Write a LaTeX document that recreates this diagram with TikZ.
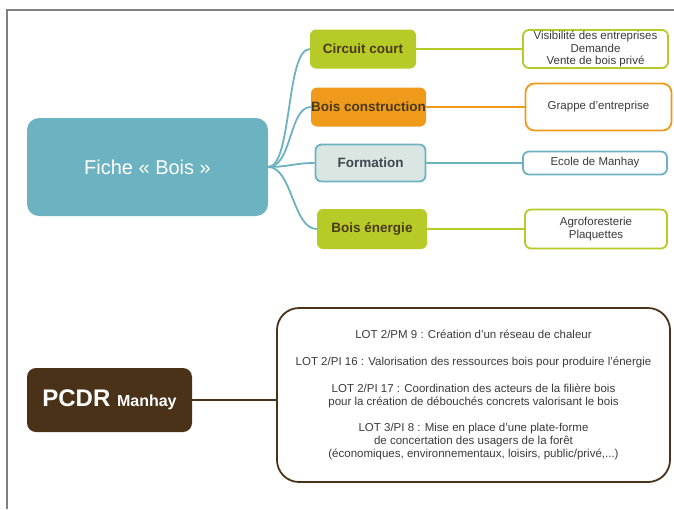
\documentclass[tikz,border=0pt]{standalone}
\usepackage{fontspec}
\setmainfont{Liberation Sans}
\definecolor{ficheteal}{HTML}{6DB2C0}
\definecolor{limebox}{HTML}{B7CB28}
\definecolor{orangebox}{HTML}{F09A1C}
\definecolor{formfill}{HTML}{DAE6E1}
\definecolor{brownbox}{HTML}{4A3219}
\definecolor{branchtext}{HTML}{4A3A14}
\definecolor{formtext}{HTML}{3E4752}
\definecolor{smalltext}{HTML}{3A3A3A}
\definecolor{framegray}{HTML}{808080}
\begin{document}
\begin{tikzpicture}[x=1pt, y=-1pt,
	box/.style={rectangle, inner sep=0pt, align=center, rounded corners=6},
	branch/.style={box, text=branchtext, font=\fontsize{13.5}{15}\selectfont\bfseries},
	leaf/.style={box, draw, line width=1.8pt, fill=white, text=smalltext, font=\fontsize{11.5}{12.5}\selectfont},
	link/.style={line width=1.8pt}]
		\useasboundingbox (0, 0) rectangle (674, 509);
		\draw[framegray, line width=1.5pt] (7, 509) -- (7, 10) -- (674, 10);
		% mind map
		\node[box, rounded corners=12, fill=ficheteal, text=white, minimum width=241, minimum height=98,
			font=\fontsize{20}{22}\selectfont] (fiche) at (147.5, 167) {Fiche « Bois »};
		\node[branch, fill=limebox, minimum width=106, minimum height=39] (cc) at (363, 49) {Circuit court};
		\node[branch, fill=orangebox, minimum width=115, minimum height=39] (bc) at (368.5, 107) {Bois construction};
		\node[branch, fill=formfill, draw=ficheteal, line width=1.8pt, text=formtext, minimum width=110,
			minimum height=37] (fo) at (370.5, 163) {Formation};
		\node[branch, fill=limebox, minimum width=110, minimum height=40] (be) at (372, 229) {Bois énergie};
		\node[leaf, draw=limebox, minimum width=145, minimum height=38] (vis) at (595.5, 49)
			{Visibilité des entreprises\\Demande\\Vente de bois privé};
		\node[leaf, draw=orangebox, rounded corners=9, minimum width=146, minimum height=47] (gr) at (598.5, 107)
			{Grappe d'entreprise};
		\node[leaf, draw=ficheteal, minimum width=144, minimum height=23] (ec) at (595, 163) {Ecole de Manhay};
		\node[leaf, draw=limebox, minimum width=142, minimum height=39] (ag) at (596, 229)
			{Agroforesterie\\Plaquettes};
		\draw[link, ficheteal] (fiche.east) .. controls +(24, 0) and +(-24, 0) .. (cc.west);
		\draw[link, ficheteal] (fiche.east) .. controls +(24, 0) and +(-22, 0) .. (bc.west);
		\draw[link, ficheteal] (fiche.east) .. controls +(20, 0) and +(-20, 0) .. (fo.west);
		\draw[link, ficheteal] (fiche.east) .. controls +(24, 0) and +(-24, 0) .. (be.west);
		\draw[link, limebox] (cc.east) -- (vis.west);
		\draw[link, orangebox] (bc.east) -- (gr.west);
		\draw[link, ficheteal] (fo.east) -- (ec.west);
		\draw[link, limebox] (be.east) -- (ag.west);
		% PCDR
		\node[box, rounded corners=9, fill=brownbox, text=white, minimum width=165, minimum height=64,
			font=\bfseries] (pcdr) at (109.5, 400) {\fontsize{24}{26}\selectfont PCDR \fontsize{16}{18}\selectfont Manhay};
		\node[box, rounded corners=22, draw=brownbox, line width=1.8pt, minimum width=393, minimum height=174,
			text=smalltext, font=\fontsize{11.5}{13}\selectfont] (lot) at (473.5, 395)
			{LOT 2/PM 9 : Création d'un réseau de chaleur\\[14pt]
			LOT 2/PI 16 : Valorisation des ressources bois pour produire l'énergie\\[14pt]
			LOT 2/PI 17 : Coordination des acteurs de la filière bois\\
			pour la création de débouchés concrets valorisant le bois\\[13pt]
			LOT 3/PI 8 : Mise en place d'une plate-forme\\
			de concertation des usagers de la forêt\\
			(économiques, environnementaux, loisirs, public/privé,...)};
		\draw[link, brownbox] (pcdr.east) -- (pcdr.east -| lot.west);
	\end{tikzpicture}
\end{document}
